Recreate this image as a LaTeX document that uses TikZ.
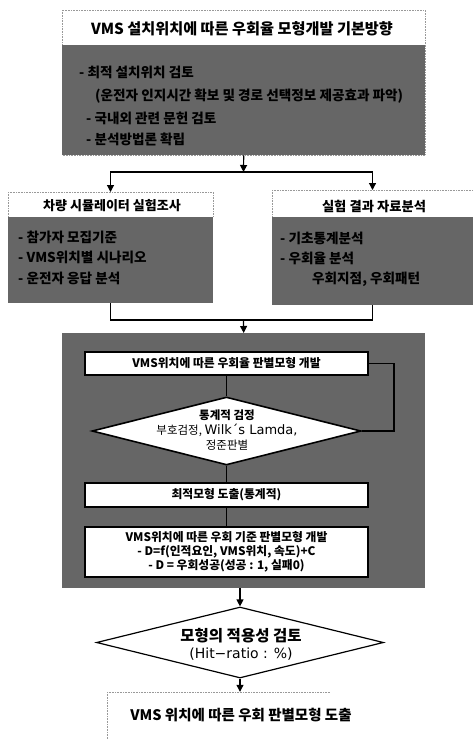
\documentclass[tikz,border=0pt]{standalone}
\usepackage{fontspec}
\newfontfamily\kr{Noto Sans CJK KR}
\newfontfamily\dv{DejaVu Sans}
\usetikzlibrary{arrows.meta,shapes.geometric}
\begin{document}
\begin{tikzpicture}[x=1pt,y=-1pt,
  darkbg/.style={fill=black!60,draw=none,inner sep=0pt},
  dotframe/.style={draw=black!40,densely dotted,line width=0.6pt},
  title/.style={font=\kr\bfseries\fontsize{15.2}{18}\selectfont,inner sep=0pt},
  subtitle/.style={font=\kr\bfseries\fontsize{13}{16}\selectfont,inner sep=0pt},
  darktxt/.style={font=\kr\bfseries\fontsize{13.6}{16}\selectfont,text=black,inner sep=0pt,anchor=west},
  wbox/.style={draw=black,line width=1.8pt,fill=white,minimum width=283pt,inner sep=1pt,align=center,font=\kr\bfseries\fontsize{11.8}{14}\selectfont},
  dia/.style={diamond,draw=black,line width=1.6pt,fill=white,inner sep=0pt},
  line/.style={draw=black,line width=1.2pt},
  arr/.style={line,-{Triangle[length=7pt,width=7pt]}}
]
\useasboundingbox (0,0) rectangle (473,740);

% ---------- top block ----------
\draw[dotframe] (62,10) rectangle (425,155);
\node[title] (t0) at (242,29) {VMS 설치위치에 따른 우회율 모형개발 기본방향};
\node[darkbg,anchor=north west,minimum width=363pt,minimum height=110pt] (td) at (62,45) {};
\node[darktxt] (t1) at (79,72) {- 최적 설치위치 검토};
\node[darktxt] (t2) at (95,96) {(운전자 인지시간 확보 및 경로 선택정보 제공효과 파악)};
\node[darktxt] (t3) at (86,118) {- 국내외 관련 문헌 검토};
\node[darktxt] (t4) at (86,139) {- 분석방법론 확립};

% ---------- split ----------
\coordinate (j1) at (243.5,172);
\coordinate (ltop) at (110.5,192);
\coordinate (rtop) at (372.5,190);
\draw[arr] (td.south) -- (j1);
\draw[arr] (j1) -| (ltop);
\draw[arr] (j1) -| (rtop);

% ---------- left block ----------
\draw[dotframe] (8,192) -- (213,192) -- (213,217);
\draw[dotframe] (8,192) -- (8,217);
\node[subtitle] (lt) at (112,206) {차량 시뮬레이터 실험조사};
\node[darkbg,anchor=north west,minimum width=205pt,minimum height=86pt] (ld) at (8,217) {};
\node[darktxt] (l1) at (18,237) {- 참가자 모집기준};
\node[darktxt] (l2) at (18,257) {- VMS위치별 시나리오};
\node[darktxt] (l3) at (18,278) {- 운전자 응답 분석};

% ---------- right block ----------
\draw[dotframe] (272,190) -- (473,190);
\draw[dotframe] (272,190) -- (272,217);
\node[subtitle,font=\kr\bfseries\fontsize{13.3}{16}\selectfont] (rt) at (374,206) {실험 결과 자료분석};
\node[darkbg,anchor=north west,minimum width=201pt,minimum height=88pt] (rd) at (272,217) {};
\node[darktxt] (r1) at (280,238) {- 기초통계분석};
\node[darktxt] (r2) at (280,258) {- 우회율 분석};
\node[darktxt] (r3) at (312,279) {우회지점, 우회패턴};

% ---------- merge ----------
\coordinate (j2) at (243.5,320);
\draw[line] (ld.south) |- (j2) -| (rd.south);

% ---------- big dark block ----------
\node[darkbg,anchor=north west,minimum width=363pt,minimum height=255pt] (bd) at (62,333) {};
\draw[arr] (j2) -- (bd.north);

\node[wbox,minimum height=23pt] (b1) at (226.5,363.5) {VMS위치에 따른 우회율 판별모형 개발};
\node[dia,minimum width=269pt,minimum height=68pt] (d1) at (226.5,431) {};
\node[align=center,inner sep=0pt,font=\kr\fontsize{11.5}{15}\selectfont] (d1t) at (227,430)
  {{\bfseries 통계적 검정}\\부호검정, {\dv\fontsize{13}{15}\selectfont Wilk´s Lamda,}\\정준판별};
\node[wbox,minimum height=24pt] (b2) at (226.5,495) {최적모형 도출(통계적)};
\node[wbox,minimum height=50pt] (b3) at (226.5,552)
  {VMS위치에 따른 우회 기준 판별모형 개발\\- D=f(인적요인, VMS위치, 속도)+C\\- D = 우회성공(성공 : 1, 실패0)};

\draw[line] (b1.south) -- (d1.north);
\draw[line] (d1.south) -- (b2.north);
\draw[line] (b2.south) -- (b3.north);
\draw[line,line width=1.6pt] (b1.east) -- ++(25,0) |- (d1.east);

% ---------- final part ----------
\node[dia,minimum width=287pt,minimum height=71pt,line width=1.2pt] (d2) at (240,642.5) {};
\node[align=center,inner sep=0pt,font=\kr\fontsize{15.5}{17}\selectfont] (d2t) at (241,644)
  {{\bfseries 모형의 적용성 검토}\\{\dv\fontsize{14}{17}\selectfont (Hit−ratio : \%)}};
\draw[arr] (d2.north |- bd.south) -- (d2.north);

\node[inner sep=0pt,minimum width=240pt,minimum height=46pt] (fin) at (240,715) {};
\node[title,font=\kr\bfseries\fontsize{14.5}{17}\selectfont] (fint) at (241,715) {VMS 위치에 따른 우회 판별모형 도출};
\draw[dotframe] (107,692) -- (330,692);
\draw[dotframe] (107,692) -- (107,740);
\draw[arr] (d2.south) -- (fin.north);
\end{tikzpicture}
\end{document}
